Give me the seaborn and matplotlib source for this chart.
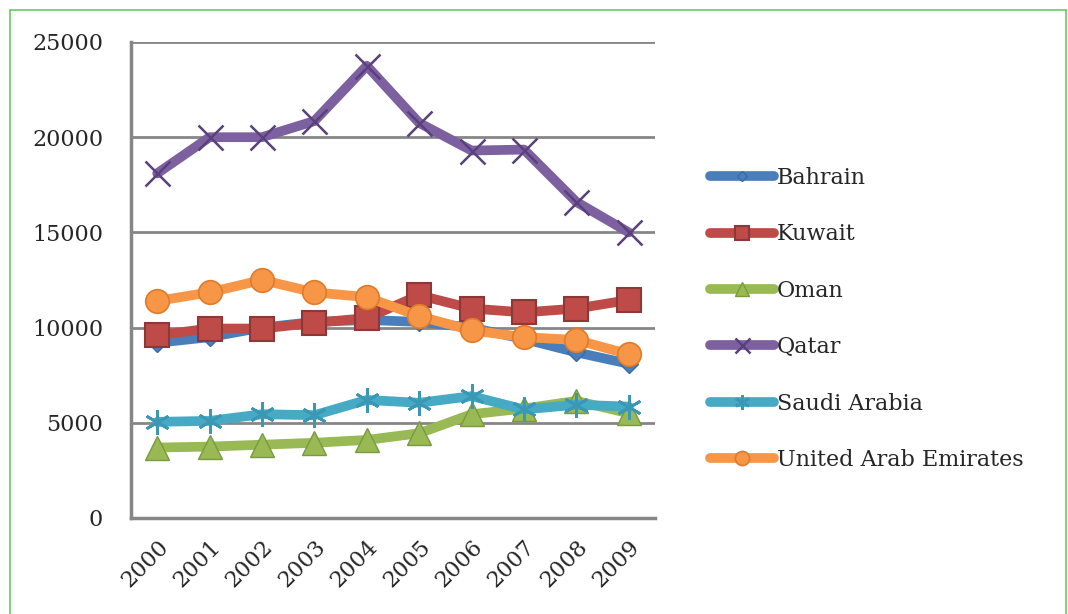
import numpy as np
import pandas as pd
import matplotlib
matplotlib.use('Agg')
import matplotlib.pyplot as plt
import seaborn as sns
from matplotlib.lines import Line2D

# Data
years = ['2000', '2001', '2002', '2003', '2004', '2005', '2006', '2007', '2008', '2009']
bahrain = [9200, 9500, 10000, 10300, 10400, 10300, 10000, 9400, 8700, 8100]
kuwait = [9600, 9950, 9950, 10250, 10500, 11700, 11000, 10800, 11000, 11450]
oman = [3700, 3750, 3850, 3950, 4100, 4450, 5450, 5750, 6150, 5500]
qatar = [18100, 20000, 20000, 20850, 23750, 20750, 19300, 19350, 16600, 15000]
saudi = [5050, 5100, 5450, 5400, 6200, 6050, 6400, 5700, 5950, 5850]
uae = [11400, 11850, 12500, 11850, 11600, 10600, 9850, 9500, 9350, 8600]

countries = ['Bahrain', 'Kuwait', 'Oman', 'Qatar', 'Saudi Arabia', 'United Arab Emirates']
series = [bahrain, kuwait, oman, qatar, saudi, uae]
colors = ['#4A7EBB', '#BE4B48', '#98B954', '#7D60A0', '#46AAC5', '#F79646']
edge_colors = ['#3A6AA5', '#8C3836', '#7A9A40', '#5A407C', '#3A98B4', '#E07B2A']
markers = ['D', 's', '^', 'x', (6, 2, 0), 'o']
marker_sizes = [9, 17, 17, 18, 18, 17]
edge_widths = [1.0, 1.5, 1.0, 1.8, 2.0, 1.2]

sns.set_theme(style='white')
plt.rcParams['font.family'] = ['DejaVu Serif']

fig = plt.figure(figsize=(10.68, 6.14), dpi=100)
ax = fig.add_axes([131 / 1068, 1 - 518 / 614, 524 / 1068, 476 / 614])

x = np.arange(len(years))
for name, vals, c, ec, m, ms, mew in zip(countries, series, colors, edge_colors,
                                          markers, marker_sizes, edge_widths):
    sns.lineplot(x=x, y=vals, ax=ax, color=c, linewidth=7, marker=m,
                 markersize=ms, markeredgecolor=ec,
                 markeredgewidth=mew, label=name, solid_capstyle='round')

ax.set_xlim(-0.5, 9.5)
ax.set_ylim(0, 25000)
ax.set_yticks(range(0, 25001, 5000))
ax.set_xticks(x)
ax.set_xticklabels(years, rotation=45, ha='right', rotation_mode='anchor')
ax.set_xticks(np.arange(-0.5, 10, 1), minor=True)
ax.tick_params(axis='x', which='major', length=0, pad=13, labelsize=16)
ax.tick_params(axis='x', which='minor', length=8, width=2, color='#868686', direction='out')
ax.tick_params(axis='y', length=12, width=2, color='#868686', direction='out', labelsize=16, pad=8)
ax.yaxis.grid(True, color='#868686', linewidth=2)
ax.xaxis.grid(False)
ax.set_axisbelow(True)
for s in ['top', 'right']:
    ax.spines[s].set_visible(False)
for s in ['left', 'bottom']:
    ax.spines[s].set_color('#868686')
    ax.spines[s].set_linewidth(2.5)
ax.set_xlabel('')
ax.set_ylabel('')

ax.get_legend().remove()
handles, labels = ax.get_legend_handles_labels()
fig.legend(handles, labels, loc='center left', bbox_to_anchor=(690 / 1068, 1 - 319 / 614),
           frameon=False, fontsize=16, handlelength=2.9, handletextpad=0.1,
           labelspacing=1.55, markerscale=0.6)

# green frame (top, left, right edges) around the figure
frame_kw = dict(transform=fig.transFigure, color='#66CC66', linewidth=1.2)
fig.lines.append(Line2D([10 / 1068, 10 / 1068], [0, 1 - 10 / 614], **frame_kw))
fig.lines.append(Line2D([10 / 1068, 1066 / 1068], [1 - 10 / 614, 1 - 10 / 614], **frame_kw))
fig.lines.append(Line2D([1066 / 1068, 1066 / 1068], [0, 1 - 10 / 614], **frame_kw))

fig.savefig('out.png', dpi=100)
